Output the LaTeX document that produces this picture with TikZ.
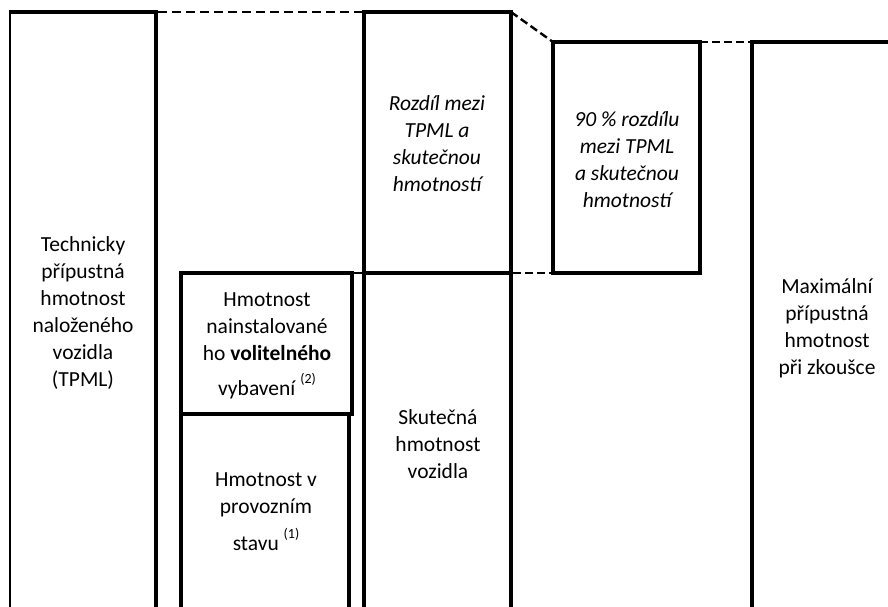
\documentclass[tikz,border=0pt]{standalone}
\usepackage{fontspec}
\setmainfont{Carlito}
\begin{document}
\begin{tikzpicture}[x=1pt,y=-1pt,
  thickline/.style={line width=3.8pt},
  thinline/.style={line width=2.6pt},
  dashline/.style={line width=1.6pt, dash pattern=on 9pt off 5pt},
  dashthick/.style={line width=2.4pt, dash pattern=on 8pt off 4pt},
  lbl/.style={align=center, inner sep=0pt, font=\fontsize{21.5}{27}\selectfont},
  supfont/.style={}]
\useasboundingbox (0,0) rectangle (888,606);
\clip (0,0) rectangle (888,606);
% TPML column
\draw[thinline] (10,620) -- (10,12);
\draw[thickline] (8.7,12) -- (156,12) -- (156,620);
% top dashed
\draw[dashline] (158,12) -- (364,12);
% Rozdil / Skutecna column
\draw[thickline] (364,620) -- (364,12) -- (511,12) -- (511,620);
\draw[thickline] (364,273) -- (511,273);
% 90% box
\draw[dashthick] (511,12) -- (553,42);
\draw[thickline] (553,42) rectangle (700,273);
\draw[dashthick] (513,273) -- (553,273);
\draw[dashthick] (700,42) -- (752,42);
% Max column
\draw[thickline] (752,620) -- (752,42) -- (900,42);
% inner boxes
\draw[thickline] (181,414) -- (181,273) -- (352,273) -- (352,414) -- cycle;
\draw[thickline] (181,414) -- (181,620);
\draw[thickline] (349,414) -- (349,620);
\draw[dashthick] (354,273) -- (364,273);
% texts
\node[lbl] (tpml) at (83,313) {Technicky\\přípustná\\hmotnost\\naloženého\\vozidla\\(TPML)};
\node[lbl] (opt) at (267,346) {Hmotnost\\nainstalované\\ho \textbf{volitelného}\\[8pt]vybavení \raisebox{12pt}{\fontsize{14}{16}\selectfont(2)}};
\node[lbl] (prov) at (266,512) {Hmotnost v\\provozním\\[10pt]stavu \raisebox{12pt}{\fontsize{14}{16}\selectfont(1)}};
\node[lbl] (skut) at (438,444) {Skutečná\\hmotnost\\vozidla};
\node[lbl, font=\fontsize{21.5}{27}\selectfont\itshape] (rozdil) at (437,144) {Rozdíl mezi\\TPML a\\skutečnou\\hmotností};
\node[lbl, font=\fontsize{21.5}{27}\selectfont\itshape] (ninety) at (627,160) {90 \% rozdílu\\mezi TPML\\a skutečnou\\hmotností};
\node[lbl] (max) at (827,328) {Maximální\\přípustná\\hmotnost\\při zkoušce};
\end{tikzpicture}
\end{document}
